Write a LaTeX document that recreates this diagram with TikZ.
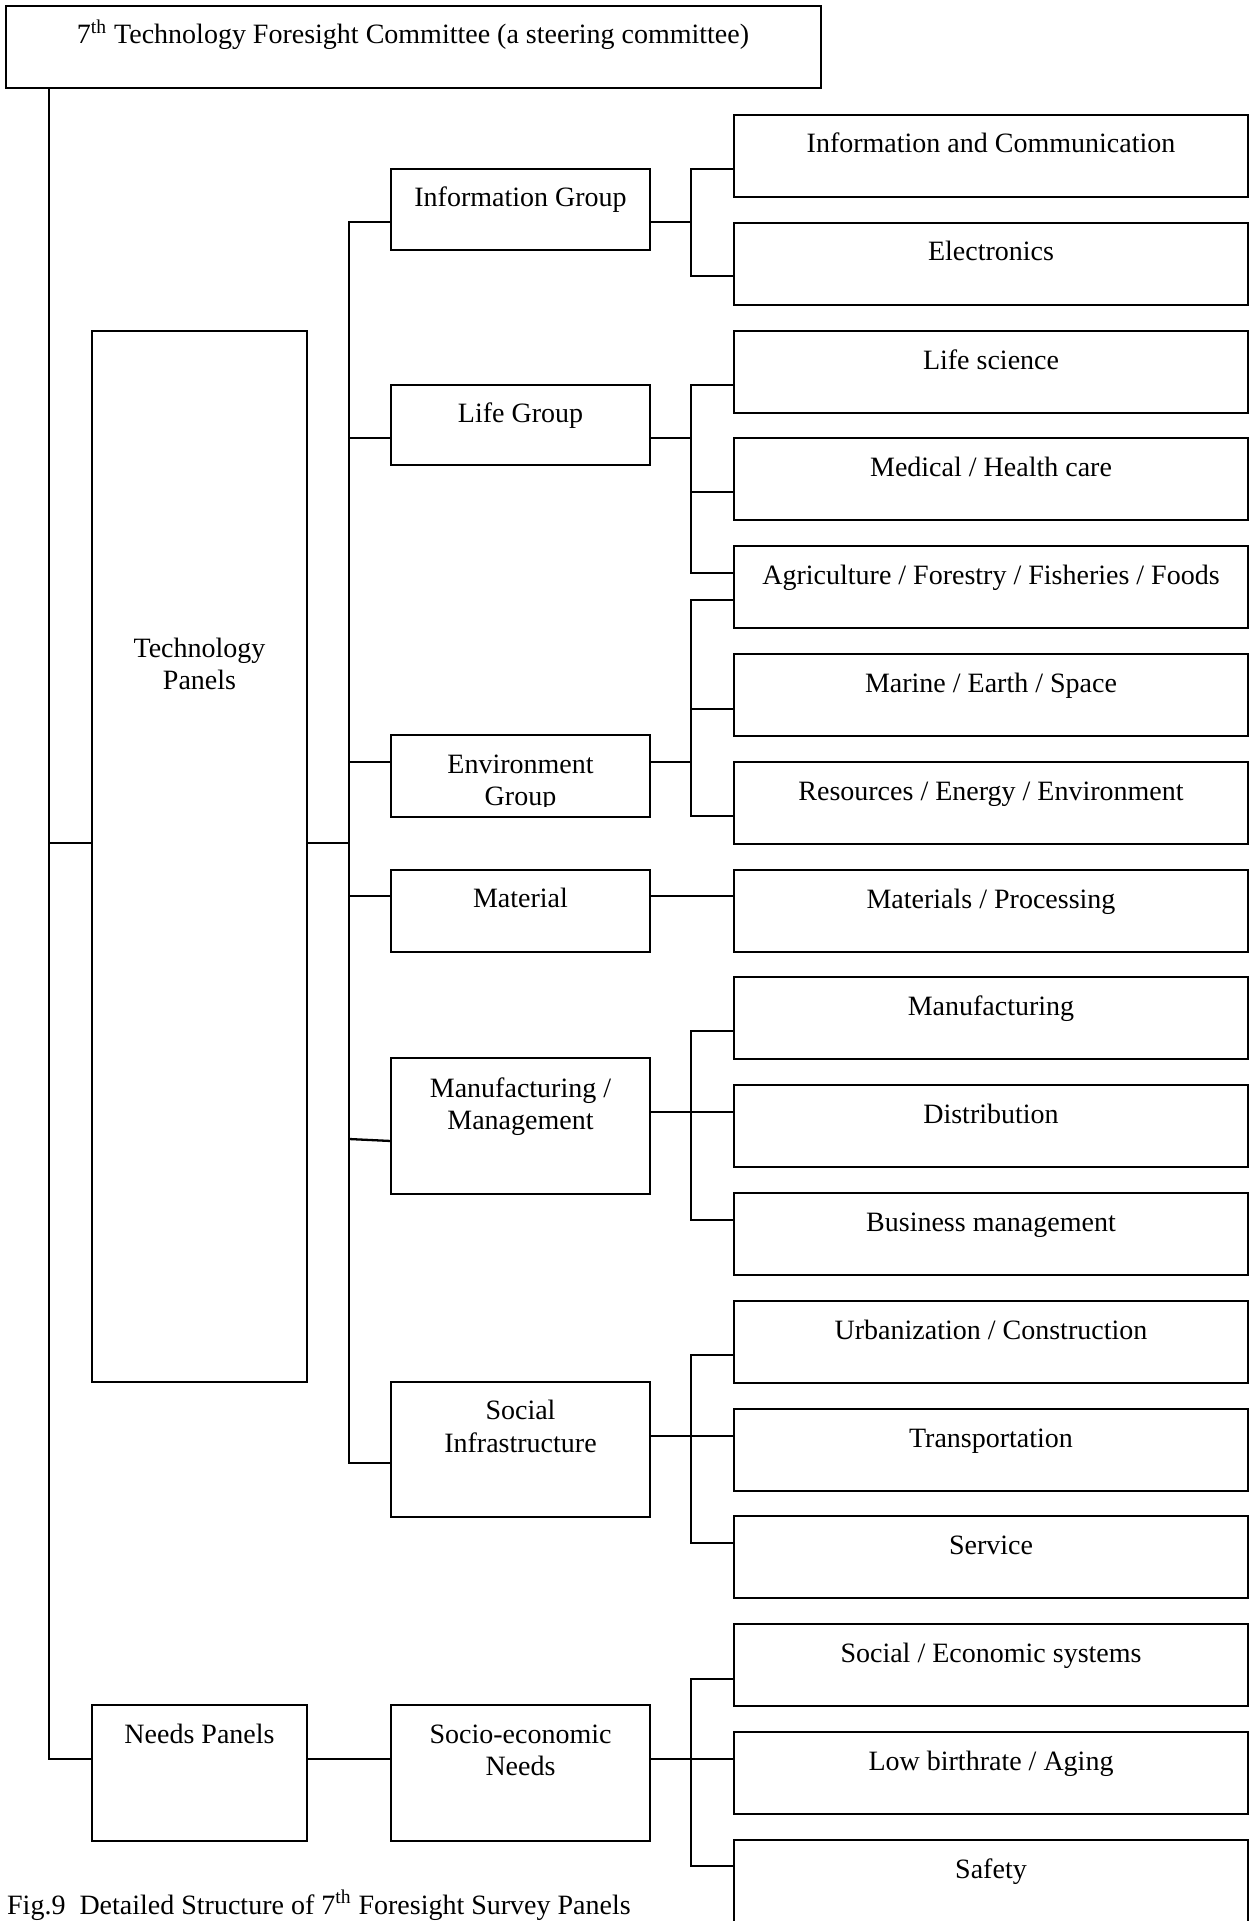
\documentclass[tikz,border=0pt]{standalone}
\usepackage{fontspec}
\setmainfont{Liberation Serif}
\newcommand\mkbox[5]{\node[boxst, minimum width={#4*0.5pt}, minimum height={#5*0.5pt}] (#1) at (#2,#3) {};}
\begin{document}
\begin{tikzpicture}[x=0.5pt,y=-0.5pt,
  line width=1.15pt,
  boxst/.style={draw, line width=1.15pt, inner sep=0pt, outer sep=0pt, anchor=north west},
  txt/.style={inner sep=0pt, anchor=base, font=\fontsize{14}{16}\selectfont}]
\useasboundingbox (0,0) rectangle (1250,1921);

% coordinates of vertical lines
\coordinate (sx) at (49,0);
\coordinate (tx) at (349,0);
\coordinate (jx) at (691,0);

% top committee
\mkbox{top}{6}{6}{815}{82}
\node[txt] (top-t) at (413,44) {7\textsuperscript{th} Technology Foresight Committee (a steering committee)};

% panels
\mkbox{tech}{92}{331}{215}{1051}
\node[txt] (tech-t1) at (199.5,657) {Technology};
\node[txt] (tech-t2) at (199.5,689) {Panels};
\mkbox{needs}{92}{1705}{215}{136}
\node[txt] (needs-t) at (199.5,1743) {Needs Panels};

% groups
\mkbox{info}{391}{169}{259}{81}
\node[txt] (info-t) at (520.5,207) {Information Group};
\mkbox{life}{391}{385}{259}{80}
\node[txt] (life-t) at (520.5,422) {Life Group};
\mkbox{env}{391}{735}{259}{82}
\begin{scope}
\clip (391,735) rectangle (650,806);
\node[txt] (env-t1) at (520.5,773) {Environment};
\node[txt] (env-t2) at (520.5,805) {Group};
\end{scope}
\mkbox{mat}{391}{870}{259}{82}
\node[txt] (mat-t) at (520.5,907) {Material};
\mkbox{manuf}{391}{1058}{259}{136}
\node[txt] (manuf-t1) at (520.5,1097) {Manufacturing /};
\node[txt] (manuf-t2) at (520.5,1129) {Management};
\mkbox{social}{391}{1382}{259}{135}
\node[txt] (social-t1) at (520.5,1419) {Social};
\node[txt] (social-t2) at (520.5,1452) {Infrastructure};
\mkbox{socio}{391}{1705}{259}{136}
\node[txt] (socio-t1) at (520.5,1743) {Socio-economic};
\node[txt] (socio-t2) at (520.5,1775) {Needs};

% leaves
\mkbox{l0}{734}{115}{514}{82}
\node[txt] (l0-t) at (991,153) {Information and Communication};
\mkbox{l1}{734}{223}{514}{82}
\node[txt] (l1-t) at (991,261) {Electronics};
\mkbox{l2}{734}{331}{514}{82}
\node[txt] (l2-t) at (991,369) {Life science};
\mkbox{l3}{734}{438}{514}{82}
\node[txt] (l3-t) at (991,476) {Medical / Health care};
\mkbox{l4}{734}{546}{514}{82}
\node[txt] (l4-t) at (991,584) {Agriculture / Forestry / Fisheries / Foods};
\mkbox{l5}{734}{654}{514}{82}
\node[txt] (l5-t) at (991,692) {Marine / Earth / Space};
\mkbox{l6}{734}{762}{514}{82}
\node[txt] (l6-t) at (991,800) {Resources / Energy / Environment};
\mkbox{l7}{734}{870}{514}{82}
\node[txt] (l7-t) at (991,908) {Materials / Processing};
\mkbox{l8}{734}{977}{514}{82}
\node[txt] (l8-t) at (991,1015) {Manufacturing};
\mkbox{l9}{734}{1085}{514}{82}
\node[txt] (l9-t) at (991,1123) {Distribution};
\mkbox{l10}{734}{1193}{514}{82}
\node[txt] (l10-t) at (991,1231) {Business management};
\mkbox{l11}{734}{1301}{514}{82}
\node[txt] (l11-t) at (991,1339) {Urbanization / Construction};
\mkbox{l12}{734}{1409}{514}{82}
\node[txt] (l12-t) at (991,1447) {Transportation};
\mkbox{l13}{734}{1516}{514}{82}
\node[txt] (l13-t) at (991,1554) {Service};
\mkbox{l14}{734}{1624}{514}{82}
\node[txt] (l14-t) at (991,1662) {Social / Economic systems};
\mkbox{l15}{734}{1732}{514}{82}
\node[txt] (l15-t) at (991,1770) {Low birthrate / Aging};
\mkbox{l16}{734}{1840}{514}{110}
\node[txt] (l16-t) at (991,1878) {Safety};

% caption
\node[txt, anchor=base west] (cap) at (6,1914) {Fig.9\ \ Detailed Structure of 7\textsuperscript{th} Foresight Survey Panels};

% spine from committee
\draw (sx |- top.south) -- (sx |- 0,1759) -- (needs.west |- 0,1759);
\draw (sx |- 0,843) -- (tech.west |- 0,843);
\draw (tech.east |- 0,843) -- (tx |- 0,843);
\draw (needs.east |- 0,1759) -- (socio.west |- 0,1759);

% trunk to groups
\draw (info.west |- 0,222) -| (tx |- 0,1463) -- (social.west |- 0,1463);
\draw (tx |- 0,438) -- (life.west |- 0,438);
\draw (tx |- 0,762) -- (env.west |- 0,762);
\draw (tx |- 0,896) -- (mat.west |- 0,896);
\draw (tx |- 0,1139) -- (manuf.west |- 0,1141);

% groups to leaves
\draw (info.east |- 0,222) -- (jx |- 0,222);
\draw (l0.west |- 0,169) -| (jx |- 0,276) -- (l1.west |- 0,276);

\draw (life.east |- 0,438) -- (jx |- 0,438);
\draw (l2.west |- 0,385) -| (jx |- 0,573) -- (l4.west |- 0,573);
\draw (jx |- 0,492) -- (l3.west |- 0,492);

\draw (env.east |- 0,762) -- (jx |- 0,762);
\draw (l4.west |- 0,600) -| (jx |- 0,816) -- (l6.west |- 0,816);
\draw (jx |- 0,709) -- (l5.west |- 0,709);

\draw (mat.east |- 0,896) -- (l7.west |- 0,896);

\draw (manuf.east |- 0,1112) -- (l9.west |- 0,1112);
\draw (l8.west |- 0,1031) -| (jx |- 0,1220) -- (l10.west |- 0,1220);

\draw (social.east |- 0,1436) -- (l12.west |- 0,1436);
\draw (l11.west |- 0,1355) -| (jx |- 0,1543) -- (l13.west |- 0,1543);

\draw (socio.east |- 0,1759) -- (l15.west |- 0,1759);
\draw (l14.west |- 0,1679) -| (jx |- 0,1866) -- (l16.west |- 0,1866);
\end{tikzpicture}
\end{document}
